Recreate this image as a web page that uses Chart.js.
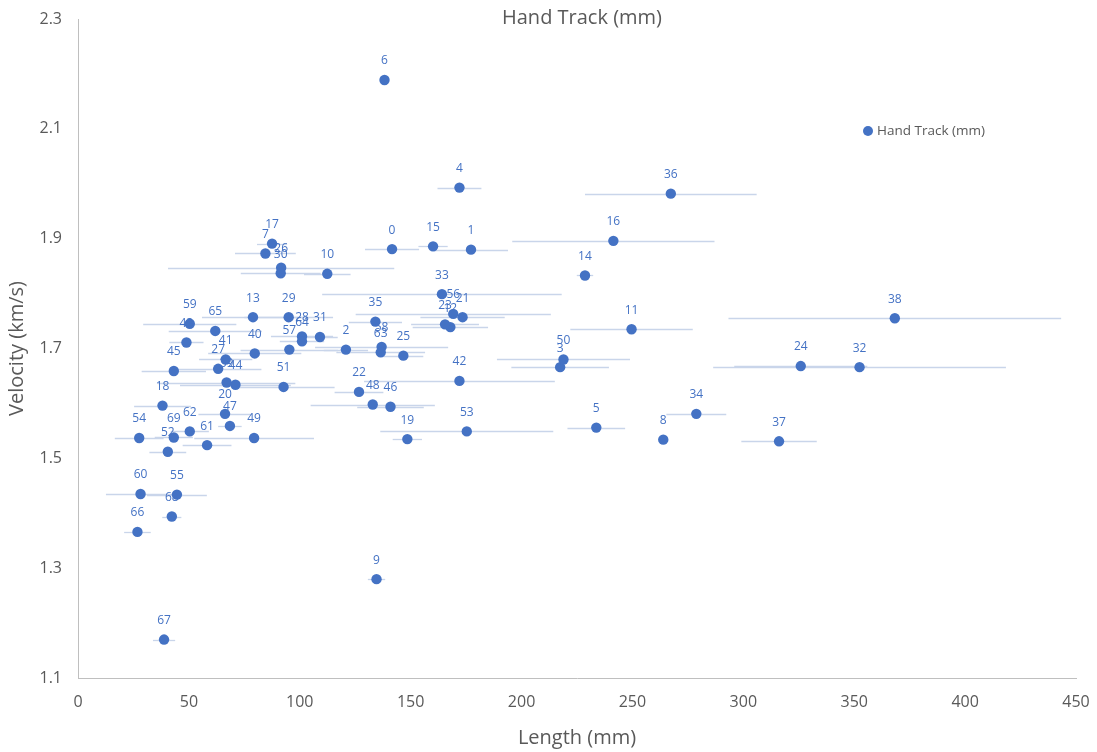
<!DOCTYPE html>
<html>
<head>
<meta charset="utf-8">
<title>Hand Track (mm)</title>
<script src="https://cdn.jsdelivr.net/npm/chart.js@4/dist/chart.umd.min.js"></script>
<style>
  html, body { margin: 0; padding: 0; background: #fff; }
  #wrap { width: 1097px; height: 752px; }
</style>
</head>
<body>
<div id="wrap"><canvas id="chart" width="1097" height="752"></canvas></div>
<script>
// point ids shown as labels
const pointIds = [
   0,  1,  2,  3,  4,  5,  6,  7,  8,  9,
  10, 11, 12, 13, 14, 15, 16, 17, 18, 19,
  20, 21, 22, 23, 24, 25, 26, 27, 28, 29,
  30, 31, 32, 33, 34, 35, 36, 37, 38, 39,
  40, 41, 42, 43, 44, 45, 46, 47, 48, 49,
  50, 51, 52, 53, 54, 55, 56, 57, 58, 59,
  60, 61, 62, 63, 64, 65, 66, 67, 68, 69
];

// Length (mm)
const lengthMm = [
  141.6, 177.2, 120.8, 217.4, 172.0, 233.7, 138.2,  84.5, 263.9, 134.6,
  112.4, 249.6, 167.9,  78.9, 228.6, 160.1, 241.4,  87.5,  38.1, 148.5,
   66.3, 173.4, 126.7, 165.5, 325.9, 146.7,  91.6,  63.2, 101.0,  95.0,
   91.4, 109.1, 352.4, 164.1, 278.8, 134.1, 267.3, 316.1, 368.3,  67.0,
   79.7,  66.6, 172.0,  48.9,  71.0,  43.2, 140.9,  68.5, 132.9,  79.4,
  218.9,  92.7,  40.5, 175.3,  27.6,  44.6, 169.2,  95.3, 136.9,  50.4,
   28.2,  58.2,  50.4, 136.5, 101.0,  61.9,  26.8,  38.8,  42.3,  43.2
];

// Velocity (km/s)
const velocity = [
  1.881, 1.880, 1.698, 1.666, 1.993, 1.556, 2.189, 1.873, 1.534, 1.280,
  1.836, 1.735, 1.739, 1.757, 1.833, 1.886, 1.896, 1.891, 1.596, 1.535,
  1.581, 1.757, 1.621, 1.744, 1.668, 1.687, 1.847, 1.663, 1.722, 1.757,
  1.837, 1.721, 1.666, 1.799, 1.581, 1.749, 1.982, 1.531, 1.755, 1.638,
  1.691, 1.680, 1.641, 1.711, 1.634, 1.659, 1.594, 1.559, 1.598, 1.537,
  1.680, 1.630, 1.512, 1.549, 1.537, 1.434, 1.763, 1.698, 1.703, 1.745,
  1.435, 1.524, 1.549, 1.693, 1.713, 1.732, 1.366, 1.170, 1.394, 1.538
];

// horizontal error (± mm)
const lengthErr = [
  12.2, 16.7, 10.0, 22.0,  9.9, 13.0,  0.0, 13.7,  0.0,  3.9,
  10.5, 27.6, 17.0, 23.0,  3.7,  6.6, 45.6,  6.8, 12.8,  6.6,
  12.0, 19.0, 11.0, 15.3, 30.0,  9.0, 51.0, 19.5, 14.0, 20.0,
  18.0,  8.0, 66.0, 54.0, 13.5, 12.0, 38.7, 17.0, 75.0, 31.0,
  21.0, 12.0, 43.0,  7.7, 25.0, 14.5, 15.0,  5.3, 28.0, 27.0,
  30.0, 23.0,  8.3, 39.0, 11.0, 13.5, 44.0, 22.0, 30.0, 21.0,
  15.6, 11.0,  8.6, 20.0, 10.0, 21.0,  6.0,  5.0,  4.3,  8.6
];

const xTicks = [0, 50, 100, 150, 200, 250, 300, 350, 400, 450];
const yTicks = [1.1, 1.3, 1.5, 1.7, 1.9, 2.1, 2.3];

const seriesName = "Hand Track (mm)";
const chartTitle = "Hand Track (mm)";

const BLUE = "#4472C4";
const GREY = "#595959";
const FONT = "'Open Sans', 'Noto Sans', sans-serif";

/* ---------- error bars under the points ---------- */
const errorBars = {
  id: "errorBars",
  beforeDatasetsDraw(chart) {
    const { ctx, scales: { x, y } } = chart;
    ctx.save();
    ctx.strokeStyle = "#c9d5ea";
    ctx.lineWidth = 1.3;
    lengthMm.forEach((v, i) => {
      const e = lengthErr[i];
      if (!e) return;
      const py = Math.round(y.getPixelForValue(velocity[i])) + 0.5;
      ctx.beginPath();
      ctx.moveTo(x.getPixelForValue(v - e), py);
      ctx.lineTo(x.getPixelForValue(v + e), py);
      ctx.stroke();
    });
    ctx.restore();
  }
};

/* ---------- id labels, title, legend ---------- */
const extras = {
  id: "extras",
  afterDatasetsDraw(chart) {
    const { ctx } = chart;
    const meta = chart.getDatasetMeta(0);
    ctx.save();
    ctx.fillStyle = BLUE;
    ctx.font = `12px ${FONT}`;
    ctx.textAlign = "center";
    ctx.textBaseline = "middle";
    meta.data.forEach((pt, i) => {
      ctx.fillText(String(pointIds[i]), pt.x, pt.y - 19);
    });
    ctx.restore();
  },
  afterDraw(chart) {
    const { ctx, chartArea: a } = chart;
    ctx.save();
    // title
    ctx.fillStyle = GREY;
    ctx.font = `20px ${FONT}`;
    ctx.textAlign = "center";
    ctx.textBaseline = "middle";
    ctx.fillText(chartTitle, (a.left + a.right) / 2 + 5, a.top - 1);
    // legend
    const lx = a.right - 208, ly = a.top + 112;
    ctx.fillStyle = BLUE;
    ctx.beginPath();
    ctx.arc(lx, ly, 5, 0, Math.PI * 2);
    ctx.fill();
    ctx.fillStyle = GREY;
    ctx.font = `13.5px ${FONT}`;
    ctx.textAlign = "left";
    ctx.fillText(seriesName, lx + 9, ly);
    ctx.restore();
  }
};

new Chart(document.getElementById("chart"), {
  type: "scatter",
  data: {
    datasets: [{
      label: seriesName,
      data: lengthMm.map((v, i) => ({ x: v, y: velocity[i] })),
      backgroundColor: BLUE,
      borderColor: BLUE,
      pointRadius: 5.2,
      pointHoverRadius: 5.2,
      borderWidth: 0
    }]
  },
  options: {
    responsive: false,
    animation: false,
    layout: { padding: { top: 19, right: 21, left: 0, bottom: 0 } },
    plugins: {
      legend: { display: false },
      title: { display: false },
      tooltip: { enabled: false }
    },
    scales: {
      x: {
        type: "linear",
        min: xTicks[0],
        max: xTicks[xTicks.length - 1],
        afterBuildTicks: s => { s.ticks = xTicks.map(v => ({ value: v })); },
        afterFit: s => { s.height = 74; s.paddingLeft = 0; s.paddingRight = 0; },
        grid: { display: false, drawTicks: false },
        border: { display: true, color: "#bfbfbf", width: 1 },
        ticks: { color: GREY, font: { size: 16, family: FONT }, padding: 15 },
        title: {
          display: true, text: "Length (mm)", color: GREY,
          font: { size: 20, family: FONT }, padding: { top: 0, bottom: 2 }
        }
      },
      y: {
        type: "linear",
        min: yTicks[0],
        max: yTicks[yTicks.length - 1],
        afterBuildTicks: s => { s.ticks = yTicks.map(v => ({ value: v })); },
        afterFit: s => { s.width = 78; s.paddingTop = 0; s.paddingBottom = 0; },
        grid: { display: false, drawTicks: false },
        border: { display: true, color: "#bfbfbf", width: 1 },
        ticks: {
          color: GREY, font: { size: 16, family: FONT }, padding: 16,
          callback: v => Number(v).toFixed(1)
        },
        title: {
          display: true, text: "Velocity (km/s)", color: GREY,
          font: { size: 20, family: FONT }, padding: { top: 5, bottom: 0 }
        }
      }
    }
  },
  plugins: [errorBars, extras]
});
</script>
</body>
</html>
